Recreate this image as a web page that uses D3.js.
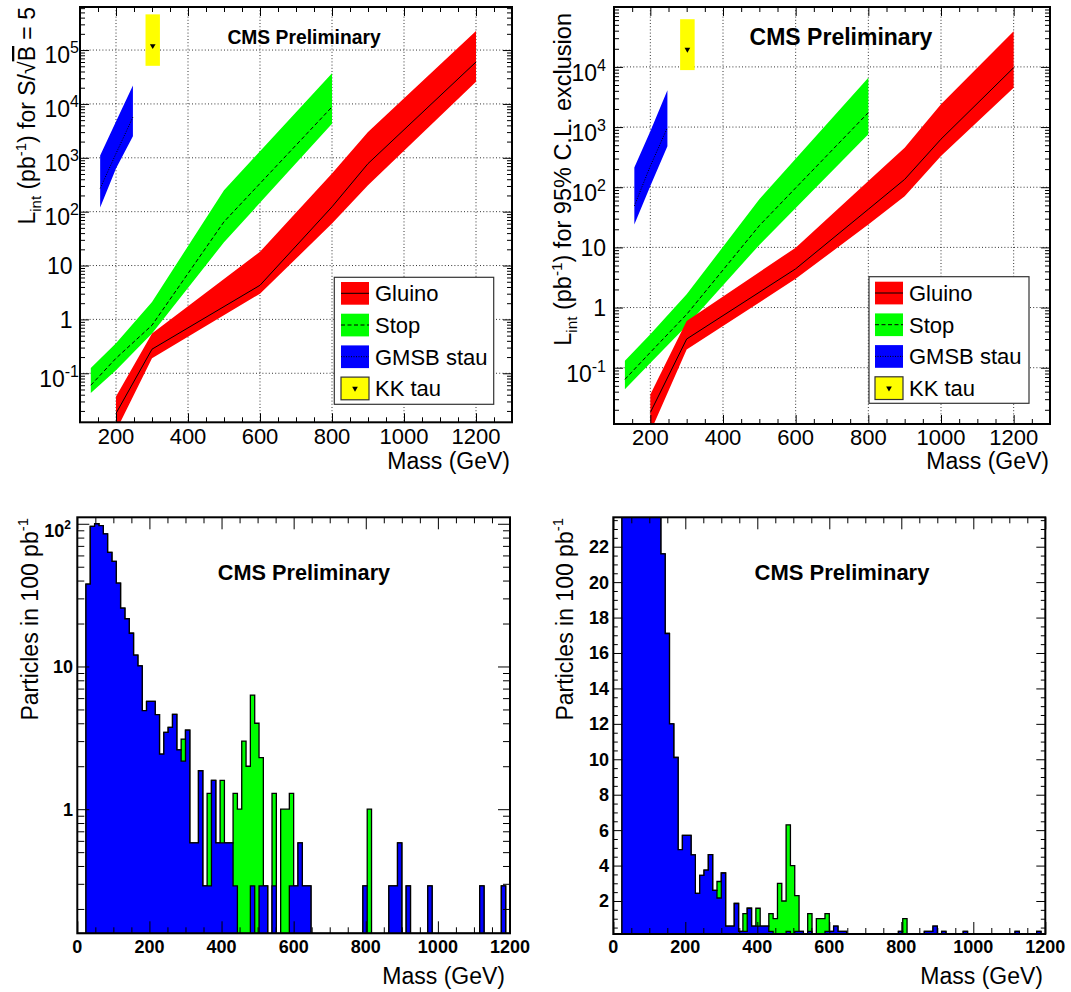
<!DOCTYPE html>
<html>
<head>
<meta charset="utf-8">
<script src="https://cdn.jsdelivr.net/npm/d3@7"></script>
<style>
  body { margin: 0; background: #fff; }
  text { font-family: "Liberation Sans", Arial, Helvetica, sans-serif; }
</style>
</head>
<body>
<script>

// ---- discovery luminosity (top left) ----
const gluDiscMass = [200, 300, 600, 800, 900, 1200];
const gluDisc     = [0.018, 0.28, 4.3, 123, 780, 6.0e4];
const gluDiscLo   = [0.0085, 0.19, 3.0, 60, 310, 2.57e4];
const gluDiscHi   = [0.037, 0.55, 18, 510, 3000, 2.26e5];

const stopDiscMass = [130, 200, 300, 500, 800];
const stopDisc     = [0.06, 0.19, 0.78, 65, 8800];
const stopDiscLo   = [0.043, 0.114, 0.55, 27, 4300];
const stopDiscHi   = [0.125, 0.36, 2.1, 250, 3.7e4];

const stauDiscMass = [156, 200, 247];
const stauDisc     = [270, 1200, 5700];
const stauDiscLo   = [120, 630, 2500];
const stauDiscHi   = [1100, 4700, 2.2e4];

const kkDiscMass = [282, 322];
const kkDisc = [1.2e5], kkDiscLo = [5.1e4], kkDiscHi = [4.6e5];

// ---- 95% CL exclusion (top right) ----
const gluExclMass = [200, 300, 600, 800, 900, 1000, 1200];
const gluExcl     = [0.018, 0.30, 4.4, 43, 135, 630, 9700];
const gluExclLo   = [0.0085, 0.2, 3.0, 24, 71, 330, 4500];
const gluExclHi   = [0.036, 0.6, 9.9, 127, 455, 2400, 3.9e4];

const stopExclMass = [130, 200, 300, 500, 800];
const stopExcl     = [0.064, 0.18, 0.77, 23, 1740];
const stopExclLo   = [0.044, 0.12, 0.5, 11, 760];
const stopExclHi   = [0.13, 0.36, 1.66, 63, 6600];

const stauExclMass = [156, 200, 247];
const stauExcl     = [49, 225, 980];
const stauExclLo   = [24, 105, 480];
const stauExclHi   = [212, 850, 4100];

const kkExclMass = [282, 322];
const kkExcl = [1.95e4], kkExclLo = [8850], kkExclHi = [6.2e4];

// ---- mass spectra, 12 GeV bins from 0 to 1200 ----
const binWidth = 12;
const countsBlue = [
  0, 0, 37.8, 96, 100, 97, 85, 63, 54.5, 38.4,
  25.6, 21.6, 17.1, 12.0, 10.1, 4.9, 5.7, 5.7, 4.6, 2.43,
  3.45, 3.74, 4.62, 2.6, 2.17, 3.58, 0.58, 0.58, 1.86, 0.29,
  0.29, 1.59, 0.58, 0.58, 0.58, 0.58, 0.29, 0, 0, 0,
  0.29, 0, 0.29, 0.29, 0, 0.29, 0, 0, 0, 0.29,
  0.29, 0.58, 0.29, 0.29, 0, 0, 0, 0, 0, 0,
  0, 0, 0, 0, 0, 0, 0.29, 0, 0, 0,
  0, 0, 0.29, 0.29, 0.58, 0, 0.29, 0, 0, 0,
  0, 0.29, 0, 0, 0, 0, 0, 0, 0, 0,
  0, 0, 0, 0.29, 0, 0, 0, 0, 0.29, 0
];
const countsGreen = [
  0, 0, 37.8, 96, 100, 97, 85, 63, 54.5, 38.4,
  25.6, 21.6, 17.1, 12.0, 10.1, 4.9, 5.7, 5.7, 4.6, 2.43,
  3.45, 3.74, 4.62, 2.6, 3.1, 3.58, 0.58, 0.58, 1.86, 0.29,
  1.29, 1.59, 0.58, 1.59, 0.58, 0.58, 1.29, 1.0, 3.0, 2.0,
  6.3, 4.0, 2.3, 0.29, 0, 1.29, 0, 1.0, 1.0, 1.29,
  0.29, 0.58, 0.29, 0.29, 0, 0, 0, 0, 0, 0,
  0, 0, 0, 0, 0, 0, 0.29, 1.0, 0, 0,
  0, 0, 0.29, 0.29, 0.58, 0, 0.29, 0, 0, 0,
  0, 0.29, 0, 0, 0, 0, 0, 0, 0, 0,
  0, 0, 0, 0.29, 0, 0, 0, 0, 0.29, 0
];

const topXTicks = [200, 400, 600, 800, 1000, 1200];
const botXTicks = [0, 200, 400, 600, 800, 1000, 1200];
const linYTicks = [2, 4, 6, 8, 10, 12, 14, 16, 18, 20, 22];

const RED = '#ff0000', GREEN = '#00ff00', BLUE = '#0000ff', YELLOW = '#ffff00';

const svg = d3.select('body').append('svg').attr('width', 1071).attr('height', 992);

// helpers for log ticks
function decadeRange(dom) {
  return d3.range(Math.floor(Math.log10(dom[0])), Math.ceil(Math.log10(dom[1])) + 1);
}
function logMajor(dom) {
  return decadeRange(dom).map(p => Math.pow(10, p)).filter(v => v >= dom[0] && v <= dom[1]);
}
function logMinor(dom) {
  const out = [];
  decadeRange(dom).forEach(p => {
    for (let k = 2; k < 10; k++) {
      const v = k * Math.pow(10, p);
      if (v >= dom[0] && v <= dom[1]) out.push(v);
    }
  });
  return out;
}

function makePanel(o) {
  const x = d3.scaleLinear().domain(o.xDomain).range([o.x0, o.x1]);
  const y = (o.log ? d3.scaleLog() : d3.scaleLinear()).domain(o.yDomain).range([o.y1, o.y0]);
  const clipId = 'clip-' + o.id;
  svg.append('clipPath').attr('id', clipId).append('rect')
    .attr('x', o.x0).attr('y', o.y0).attr('width', o.x1 - o.x0).attr('height', o.y1 - o.y0);
  const grid = svg.append('g');
  const plot = svg.append('g').attr('clip-path', `url(#${clipId})`);
  const over = svg.append('g');
  return { x, y, grid, plot, over, o };
}

function drawGrid(p, xVals, yVals) {
  const { x, y, grid, o } = p;
  grid.selectAll('.gx').data(xVals).enter().append('line')
    .attr('x1', d => x(d)).attr('x2', d => x(d)).attr('y1', o.y0).attr('y2', o.y1);
  grid.selectAll('.gy').data(yVals).enter().append('line')
    .attr('x1', o.x0).attr('x2', o.x1).attr('y1', d => y(d)).attr('y2', d => y(d));
  grid.selectAll('line').attr('stroke', '#000').attr('stroke-width', 0.8).attr('stroke-dasharray', '1,2.2');
}

function drawTicks(p, xMaj, xMin, yMaj, yMin, xl, yl) {
  const { x, y, over, o } = p;
  const ax = (axis, tx, ty) => {
    over.append('g').attr('transform', `translate(${tx},${ty})`).call(axis)
      .call(g => g.select('.domain').remove())
      .call(g => g.selectAll('line').attr('stroke', '#000').attr('stroke-width', 1));
  };
  [[xMaj, xl[0]], [xMin, xl[1]]].forEach(([vals, len]) => {
    ax(d3.axisBottom(x).tickValues(vals).tickSize(-len).tickFormat(''), 0, o.y1);
    ax(d3.axisTop(x).tickValues(vals).tickSize(-len).tickFormat(''), 0, o.y0);
  });
  [[yMaj, yl[0]], [yMin, yl[1]]].forEach(([vals, len]) => {
    ax(d3.axisLeft(y).tickValues(vals).tickSize(-len).tickFormat(''), o.x0, 0);
    ax(d3.axisRight(y).tickValues(vals).tickSize(-len).tickFormat(''), o.x1, 0);
  });
  over.append('rect').attr('x', o.x0).attr('y', o.y0)
    .attr('width', o.x1 - o.x0).attr('height', o.y1 - o.y0)
    .attr('fill', 'none').attr('stroke', '#000').attr('stroke-width', 2);
}

function xLabels(p, vals, base, size, weight) {
  p.over.selectAll('.xl').data(vals).enter().append('text')
    .attr('x', d => p.x(d)).attr('y', base)
    .attr('text-anchor', 'middle').attr('font-size', size).attr('font-weight', weight)
    .text(d => d);
}

// log labels: 1, 10, otherwise 10^n
function yLogLabels(p, vals, cfg) {
  vals.forEach(v => {
    const e = Math.round(Math.log10(v));
    const t = p.over.append('text').attr('text-anchor', 'end')
      .attr('font-size', cfg.size).attr('font-weight', cfg.weight);
    if (e === 0 || e === 1) {
      t.attr('x', cfg.xPlain).attr('y', p.y(v) + cfg.dPlain).text(e === 0 ? '1' : '10');
    } else {
      t.attr('x', cfg.xExp).attr('y', p.y(v) + cfg.dExp);
      t.append('tspan').text('10');
      t.append('tspan').attr('font-size', cfg.sup).attr('dy', -cfg.supDy).text(e);
    }
  });
}

function yTitle(x, y, size, build) {
  const t = svg.append('text').attr('transform', `translate(${x},${y}) rotate(-90)`)
    .attr('text-anchor', 'end').attr('font-size', size);
  build(t, size);
}

function lintTitle(rest, extra) {
  return (t, s) => {
    t.append('tspan').text('L');
    t.append('tspan').attr('font-size', s * 0.65).attr('dy', s * 0.25).text('int');
    t.append('tspan').attr('dy', -s * 0.25).text(' (pb');
    t.append('tspan').attr('font-size', s * 0.65).attr('dy', -s * 0.4).text('-1');
    t.append('tspan').attr('dy', s * 0.4).text(rest);
    if (extra) extra(t);
  };
}

function label(x, y, txt, size, anchor, weight) {
  svg.append('text').attr('x', x).attr('y', y).attr('text-anchor', anchor)
    .attr('font-size', size).attr('font-weight', weight || 'normal').text(txt);
}

function band(p, mass, lo, hi, mid, color, dash) {
  const area = d3.area().x((d, i) => p.x(mass[i])).y0((d, i) => p.y(lo[i])).y1((d, i) => p.y(hi[i]));
  p.plot.append('path').datum(mass).attr('d', area).attr('fill', color);
  const line = d3.line().x((d, i) => p.x(mass[i])).y((d, i) => p.y(mid[i]));
  p.plot.append('path').datum(mass).attr('d', line).attr('fill', 'none')
    .attr('stroke', '#000').attr('stroke-width', 1).attr('stroke-dasharray', dash);
}

function kkBox(p, mass, mid, lo, hi) {
  p.plot.append('rect').attr('x', p.x(mass[0])).attr('width', p.x(mass[1]) - p.x(mass[0]))
    .attr('y', p.y(hi[0])).attr('height', p.y(lo[0]) - p.y(hi[0])).attr('fill', YELLOW);
  p.plot.append('path').attr('d', d3.symbol().type(d3.symbolTriangle).size(14)())
    .attr('transform', `translate(${p.x((mass[0] + mass[1]) / 2)},${p.y(mid[0])}) rotate(180)`)
    .attr('fill', '#000');
}

function legend(bx, entries) {
  const g = svg.append('g');
  g.append('rect').attr('x', bx.x0).attr('y', bx.y0).attr('width', bx.x1 - bx.x0).attr('height', bx.y1 - bx.y0)
    .attr('fill', '#fff').attr('stroke', '#333').attr('stroke-width', 1.2);
  entries.forEach((e, i) => {
    const cy = bx.first + i * bx.step;
    g.append('rect').attr('x', bx.sx0).attr('y', cy - 11.3).attr('width', bx.sx1 - bx.sx0).attr('height', 22.7)
      .attr('fill', e.color).attr('stroke', e.kind === 'marker' ? '#333' : 'none').attr('stroke-width', 1.2);
    if (e.kind === 'marker') {
      g.append('path').attr('d', d3.symbol().type(d3.symbolTriangle).size(14)())
        .attr('transform', `translate(${(bx.sx0 + bx.sx1) / 2},${cy}) rotate(180)`).attr('fill', '#000');
    } else {
      g.append('line').attr('x1', bx.sx0).attr('x2', bx.sx1).attr('y1', cy).attr('y2', cy)
        .attr('stroke', '#000').attr('stroke-width', 1).attr('stroke-dasharray', e.dash);
    }
    g.append('text').attr('x', bx.tx).attr('y', cy + 8).attr('font-size', 22).text(e.label);
  });
}

const legendEntries = [
  { label: 'Gluino', color: RED, dash: null },
  { label: 'Stop', color: GREEN, dash: '4,2.5' },
  { label: 'GMSB stau', color: BLUE, dash: '1,1.5' },
  { label: 'KK tau', color: YELLOW, kind: 'marker' }
];

// ================= top left: discovery =================
const tl = makePanel({ id: 'tl', x0: 80, x1: 512, y0: 7, y1: 422.3, xDomain: [100, 1300], yDomain: [0.0123, 6.3e5], log: true });
const tlMaj = logMajor(tl.o.yDomain);
drawGrid(tl, topXTicks, tlMaj);
band(tl, stauDiscMass, stauDiscLo, stauDiscHi, stauDisc, BLUE, '1,1.5');
kkBox(tl, kkDiscMass, kkDisc, kkDiscLo, kkDiscHi);
band(tl, stopDiscMass, stopDiscLo, stopDiscHi, stopDisc, GREEN, '4,2.5');
band(tl, gluDiscMass, gluDiscLo, gluDiscHi, gluDisc, RED, null);
drawTicks(tl, topXTicks, d3.range(100, 1301, 50).filter(v => v % 200), tlMaj, logMinor(tl.o.yDomain), [9, 5], [9, 5]);
xLabels(tl, topXTicks, 444, 22, 'normal');
yLogLabels(tl, tlMaj, { size: 23, weight: 'normal', sup: 16, supDy: 10, xPlain: 72.5, xExp: 79, dPlain: 8.3, dExp: 13.4 });
label(510, 469, 'Mass (GeV)', 23, 'end');
label(304, 44, 'CMS Preliminary', 19.3, 'middle', 'bold');
yTitle(35, 7, 23, lintTitle(') for S/', t => {
  t.append('tspan').text('\u221A');
  t.append('tspan').style('text-decoration', 'overline').text('B');
  t.append('tspan').text(' = 5');
}));
legend({ x0: 334.3, x1: 493.7, y0: 277.3, y1: 404.3, first: 293.3, step: 31.7, sx0: 341, sx1: 369, tx: 375 }, legendEntries);

// ================= top right: exclusion =================
const tr = makePanel({ id: 'tr', x0: 614, x1: 1050, y0: 7, y1: 424, xDomain: [100, 1300], yDomain: [0.0116, 0.99e5], log: true });
const trMaj = logMajor(tr.o.yDomain);
drawGrid(tr, topXTicks, trMaj);
band(tr, stauExclMass, stauExclLo, stauExclHi, stauExcl, BLUE, '1,1.5');
kkBox(tr, kkExclMass, kkExcl, kkExclLo, kkExclHi);
band(tr, stopExclMass, stopExclLo, stopExclHi, stopExcl, GREEN, '4,2.5');
band(tr, gluExclMass, gluExclLo, gluExclHi, gluExcl, RED, null);
drawTicks(tr, topXTicks, d3.range(100, 1301, 50).filter(v => v % 200), trMaj, logMinor(tr.o.yDomain), [9, 5], [9, 5]);
xLabels(tr, topXTicks, 445, 22, 'normal');
yLogLabels(tr, trMaj, { size: 23, weight: 'normal', sup: 16, supDy: 10, xPlain: 606, xExp: 606, dPlain: 8.5, dExp: 14 });
label(1049, 469, 'Mass (GeV)', 23, 'end');
label(841, 45, 'CMS Preliminary', 23, 'middle', 'bold');
yTitle(571, 13, 23.5, lintTitle(') for 95% C.L. exclusion'));
legend({ x0: 869, x1: 1029, y0: 276.7, y1: 403.3, first: 293, step: 31.7, sx0: 875, sx1: 903, tx: 909 }, legendEntries);

// ================= bottom: mass spectra =================
function histo(p, counts, color) {
  const ymin = p.o.yDomain[0];
  const pts = counts.map((v, i) => ({ m: i * binWidth, v }));
  pts.push({ m: counts.length * binWidth, v: counts[counts.length - 1] });
  const area = d3.area().curve(d3.curveStepAfter)
    .x(d => p.x(d.m)).y0(p.o.y1).y1(d => p.y(Math.max(d.v, ymin)));
  p.plot.append('path').datum(pts).attr('d', area).attr('fill', color)
    .attr('stroke', '#000').attr('stroke-width', 1.3);
}

function particlesTitle(t, s) {
  t.append('tspan').text('Particles in 100 pb');
  t.append('tspan').attr('font-size', s * 0.65).attr('dy', -s * 0.4).text('-1');
}

const bl = makePanel({ id: 'bl', x0: 77.3, x1: 510, y0: 517.3, y1: 933.3, xDomain: [0, 1200], yDomain: [0.135, 111], log: true });
histo(bl, countsGreen, GREEN);
histo(bl, countsBlue, BLUE);
drawTicks(bl, botXTicks, d3.range(0, 1201, 50).filter(v => v % 200), logMajor(bl.o.yDomain), logMinor(bl.o.yDomain), [12, 6], [12, 7]);
xLabels(bl, botXTicks, 953, 18, 'bold');
yLogLabels(bl, logMajor(bl.o.yDomain), { size: 18, weight: 'bold', sup: 12, supDy: 8, xPlain: 73, xExp: 71, dPlain: 6.5, dExp: 13 });
label(505, 984, 'Mass (GeV)', 23, 'end');
label(304, 580, 'CMS Preliminary', 21.7, 'middle', 'bold');
yTitle(37.5, 518, 23, particlesTitle);

const br = makePanel({ id: 'br', x0: 613.3, x1: 1045.3, y0: 517.3, y1: 934, xDomain: [0, 1200], yDomain: [0.137, 23.66], log: false });
histo(br, countsGreen, GREEN);
histo(br, countsBlue, BLUE);
drawTicks(br, botXTicks, d3.range(0, 1201, 50).filter(v => v % 200), linYTicks, d3.range(0.5, 23.6, 0.5).filter(v => v % 2), [12, 6], [9, 4.5]);
xLabels(br, botXTicks, 953, 18, 'bold');
br.over.selectAll('.yl').data(linYTicks).enter().append('text')
  .attr('x', 609).attr('y', d => br.y(d) + 6.5).attr('text-anchor', 'end')
  .attr('font-size', 18).attr('font-weight', 'bold').text(d => d);
label(1043, 984, 'Mass (GeV)', 23, 'end');
label(842, 580, 'CMS Preliminary', 22, 'middle', 'bold');
yTitle(572.5, 518, 23, particlesTitle);

</script>
</body>
</html>
